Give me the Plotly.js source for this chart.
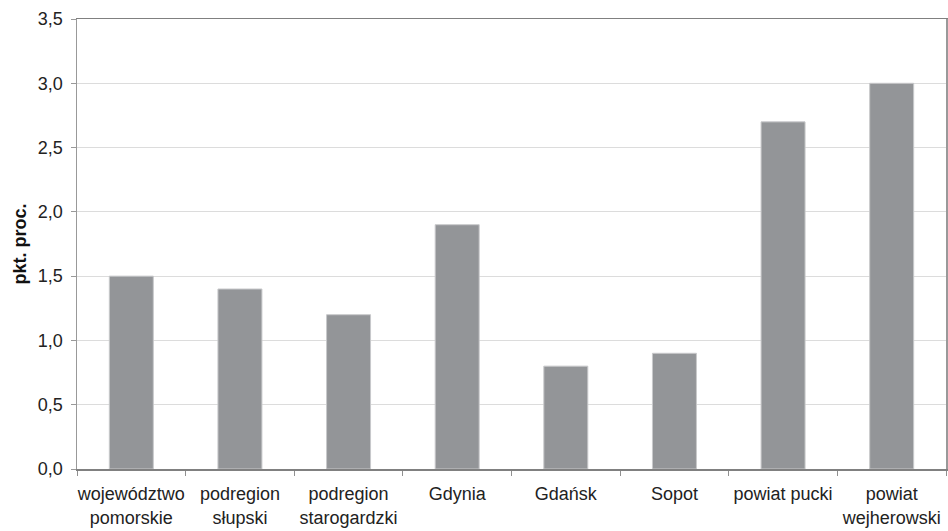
<!DOCTYPE html>
<html>
<head>
<meta charset="utf-8">
<script src="https://cdn.plot.ly/plotly-3.0.1.min.js"></script>
<style>
  html, body { margin: 0; padding: 0; background: #fff; }
  #chart { width: 948px; height: 531px; }
</style>
</head>
<body>
<div id="chart"></div>
<script>
// Regions and their change in percentage points
const regions = [
  "województwo<br>pomorskie",
  "podregion<br>słupski",
  "podregion<br>starogardzki",
  "Gdynia",
  "Gdańsk",
  "Sopot",
  "powiat pucki",
  "powiat<br>wejherowski"
];
const values = [1.5, 1.4, 1.2, 1.9, 0.8, 0.9, 2.7, 3.0];
const yTicks = [0, 0.5, 1, 1.5, 2, 2.5, 3, 3.5];

const trace = {
  type: "bar",
  x: regions,
  y: values,
  marker: { color: "#939598", line: { color: "#c8c9cb", width: 1 } },
  hoverinfo: "skip"
};

const layout = {
  width: 948,
  height: 531,
  margin: { l: 77, r: 2, t: 19, b: 62 },
  paper_bgcolor: "#ffffff",
  plot_bgcolor: "#ffffff",
  bargap: 0.595,
  separators: ", ",
  showlegend: false,
  font: { family: "Liberation Sans, Arial, sans-serif", size: 18, color: "#222" },
  xaxis: {
    type: "category",
    showline: true,
    linecolor: "#808080",
    linewidth: 1.5,
    mirror: true,
    ticks: "outside",
    tickson: "boundaries",
    ticklen: 5,
    tickcolor: "#909090",
    tickangle: 0,
    ticklabelstandoff: 8,
    showgrid: false,
    tickfont: { size: 18, color: "#222" },
    automargin: false
  },
  yaxis: {
    range: [0, 3.5],
    tickvals: yTicks,
    tickformat: ".1f",
    showline: true,
    linecolor: "#999999",
    linewidth: 1.5,
    mirror: true,
    ticks: "outside",
    ticklen: 5,
    tickcolor: "#999999",
    ticklabelstandoff: 4,
    showgrid: true,
    gridcolor: "#dcdcdc",
    gridwidth: 1,
    zeroline: false,
    tickfont: { size: 18, color: "#222" },
    title: {
      text: "<b>pkt. proc.</b>",
      font: { size: 18, color: "#111" },
      standoff: 6
    },
    automargin: false
  }
};

Plotly.newPlot("chart", [trace], layout, { staticPlot: true, displayModeBar: false });
</script>
</body>
</html>
